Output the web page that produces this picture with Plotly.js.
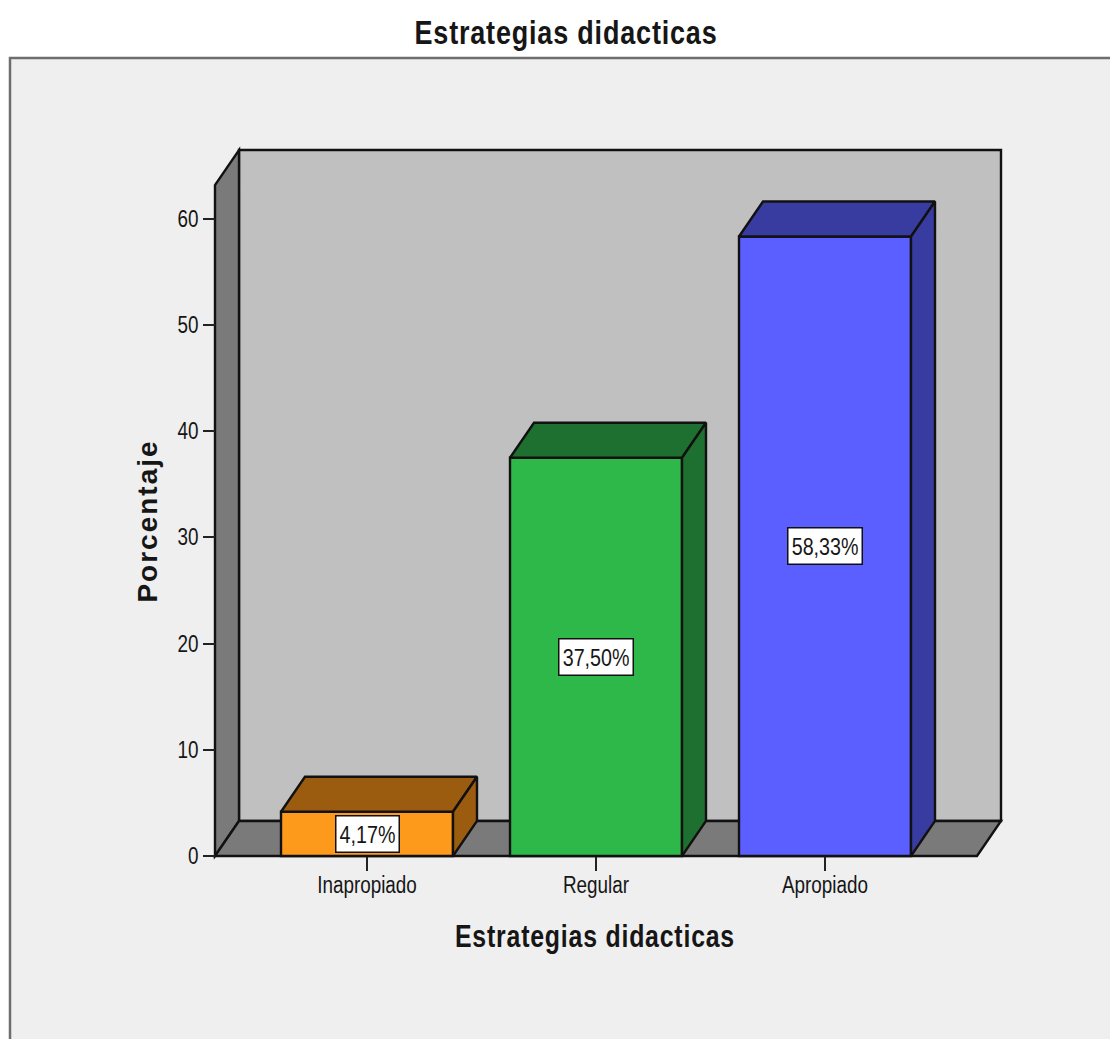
<!DOCTYPE html>
<html>
<head>
<meta charset="utf-8">
<script src="https://cdn.plot.ly/plotly-3.0.1.min.js"></script>
<style>
html,body{margin:0;padding:0;background:#fff;overflow:hidden}
#chart{width:1110px;height:1039px}
.ytitle{letter-spacing:2px}
.xtitle{letter-spacing:1px}
.gtitle{letter-spacing:1px}
</style>
</head>
<body>
<div id="chart"></div>
<script>
const categories = ['Inapropiado', 'Regular', 'Apropiado'];
const values = [4.17, 37.5, 58.33];
const labels = ['4,17%', '37,50%', '58,33%'];
const frontColors = ['#fd9a1c', '#2fb84a', '#5b5fff'];
const shadeColors = ['#9c5c10', '#1e7030', '#383ca0'];
const yTicks = [0, 10, 20, 30, 40, 50, 60];

const W = 1110, H = 1039;
const plot = {l: 178, r: 1012, t: 140, b: 902};
const perCat = 229, perUnit = 10.62;
const axisX = 215, axisY = 856;
const xAt0 = 367;
const px2x = p => (p - xAt0) / perCat;
const py2y = p => (axisY - p) / perUnit;
const dx = 24 / perCat, dy = 35 / perUnit;
const barW = 172 / perCat;
const xL = px2x(axisX), xR = px2x(977), yTop = py2y(185);

const LINE = {color: '#111', width: 2.4};
const poly = (xs, ys, fill) => ({
  type: 'path', xref: 'x', yref: 'y', layer: 'below',
  path: xs.map((x, i) => (i ? 'L' : 'M') + x + ',' + ys[i]).join(' ') + ' Z',
  fillcolor: fill, line: LINE
});

const fx = p => (p - plot.l) / (plot.r - plot.l);
const fy = p => (plot.b - p) / (plot.b - plot.t);
const shapes = [
  {type: 'rect', xref: 'paper', yref: 'paper', layer: 'below',
   x0: fx(10), x1: fx(W + 20), y0: fy(H + 20), y1: fy(58),
   fillcolor: '#efefef', line: {color: '#6e6e6e', width: 2.5}},
  poly([xL + dx, xR + dx, xR + dx, xL + dx], [dy, dy, yTop + dy, yTop + dy], '#c0c0c0'),
  poly([xL, xL + dx, xL + dx, xL], [0, dy, yTop + dy, yTop], '#7a7a7a'),
  poly([xL, xR, xR + dx, xL + dx], [0, 0, dy, dy], '#7a7a7a')
];

const front = {
  type: 'bar', x: categories, y: values, width: barW,
  marker: {color: frontColors, line: LINE},
  hoverinfo: 'x+y', showlegend: false
};

const idx = c => categories.indexOf(c);
const faces = [];
categories.forEach((c, i) => {
  const a = idx(c) - barW / 2, b = idx(c) + barW / 2, v = values[i];
  const face = (xs, ys) => ({
    type: 'scatter', mode: 'lines', x: xs, y: ys, fill: 'toself',
    fillcolor: shadeColors[i], line: LINE,
    hoverinfo: 'skip', showlegend: false, xaxis: 'x2', yaxis: 'y'
  });
  faces.push(face([a, b, b + dx, a + dx, a], [v, v, v + dy, v + dy, v]));
  faces.push(face([b, b + dx, b + dx, b, b], [0, dy, v + dy, v, 0]));
});

const xRange = [(plot.l - xAt0) / perCat, (plot.r - xAt0) / perCat];
const yRange = [(axisY - plot.b) / perUnit, (axisY - plot.t) / perUnit];
const font = {family: '"Liberation Sans", Arial, sans-serif', color: '#161616'};
const bold = Object.assign({}, font, {weight: 'bold'});

const layout = {
  width: W, height: H,
  margin: {l: plot.l, r: W - plot.r, t: plot.t, b: H - plot.b, pad: 0},
  paper_bgcolor: '#ffffff', plot_bgcolor: 'rgba(0,0,0,0)',
  font: Object.assign({size: 23}, font),
  showlegend: false, bargap: 0, shapes: shapes,
  title: {
    text: 'Estrategias didacticas',
    font: Object.assign({}, bold, {size: 33}),
    x: 566 / W, xref: 'container', xanchor: 'center',
    y: 1 - 32 / H, yref: 'container', yanchor: 'middle'
  },
  xaxis: {
    type: 'category', categoryorder: 'array', categoryarray: categories,
    range: xRange, anchor: 'free', position: fy(axisY),
    ticks: 'outside', ticklen: 14, tickwidth: 2, tickcolor: '#222',
    ticklabelstandoff: -6,
    showline: false, showgrid: false, zeroline: false,
    tickfont: Object.assign({}, font, {size: 23}),
    title: {text: 'Estrategias didacticas',
            font: Object.assign({}, bold, {size: 31}), standoff: 28}
  },
  xaxis2: {
    range: xRange, overlaying: 'x', visible: false, anchor: 'y'
  },
  yaxis: {
    range: yRange, anchor: 'free', position: fx(axisX),
    tickvals: yTicks, ticks: 'outside', ticklen: 12, tickwidth: 2, tickcolor: '#222',
    showline: false, showgrid: false, zeroline: false,
    tickfont: Object.assign({}, font, {size: 23}),
    title: {text: 'Porcentaje',
            font: Object.assign({}, bold, {size: 28}), standoff: 6}
  },
  annotations: categories.map((c, i) => ({
    x: idx(c), y: values[i] / 2, xref: 'x2', yref: 'y', text: labels[i], showarrow: false,
    font: Object.assign({}, font, {size: 24}), align: 'center',
    width: labels[i].length * 11.2, height: 29,
    bgcolor: '#ffffff', bordercolor: '#111', borderwidth: 1.5, borderpad: 3
  }))
};

// The reference's lettering is condensed; squeeze the real text horizontally.
function condense(selector, target) {
  document.querySelectorAll(selector).forEach(t => {
    const len = t.getComputedTextLength();
    t.setAttribute('lengthAdjust', 'spacingAndGlyphs');
    t.setAttribute('textLength', typeof target === 'number' ? target : len * 0.82);
  });
}

Plotly.newPlot('chart', [front].concat(faces), layout, {displayModeBar: false, staticPlot: true}).then(() => {
  condense('.xtick text');
  condense('.ytick text');
  condense('.annotation-text');
  condense('.gtitle', 303);
  condense('.xtitle', 280);
});
</script>
</body>
</html>
